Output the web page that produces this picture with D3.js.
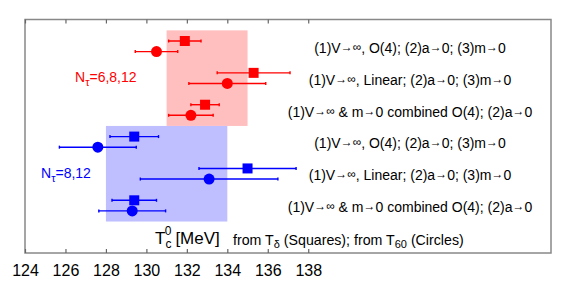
<!DOCTYPE html>
<html>
<head>
	<meta charset="utf-8">
	<script src="https://cdnjs.cloudflare.com/ajax/libs/d3/7.8.5/d3.min.js"></script>
	<style>
		body { margin: 0; background: #fff; }
		text { font-family: "Liberation Sans", Arial, sans-serif; }
	</style>
</head>
<body>
	<script type="text/javascript">

		// data: Tc0 estimates, square = from T_delta, circle = from T_60
		let rows = [0, 1, 2, 3, 4, 5];
		let squareVal = [131.9, 135.3, 132.9, 129.4, 135.0, 129.4];
		let squareErr = [0.8, 1.8, 0.7, 1.2, 2.4, 1.1];
		let circleVal = [130.5, 134.0, 132.2, 127.6, 133.1, 129.3];
		let circleErr = [1.05, 1.9, 1.1, 1.9, 3.4, 1.65];
		let rowColor = ['red', 'red', 'red', 'blue', 'blue', 'blue'];
		let rowLabels = [
			'(1)V→∞, O(4); (2)a→0; (3)m→0',
			'(1)V→∞, Linear; (2)a→0; (3)m→0',
			'(1)V→∞ & m→0 combined O(4); (2)a→0',
			'(1)V→∞, O(4); (2)a→0; (3)m→0',
			'(1)V→∞, Linear; (2)a→0; (3)m→0',
			'(1)V→∞ & m→0 combined O(4); (2)a→0'
		];
		let bands = [
			{lo: 131, hi: 135, from: -0.5, to: 2.5, fill: '#ffbfbf'},
			{lo: 128, hi: 134, from: 2.5, to: 5.5, fill: '#bfbfff'}
		];
		let tickVals = [124, 126, 128, 130, 132, 134, 136, 138];

		let svg = d3.select('body').append('svg')
			.attr('width', 581)
			.attr('height', 287);

		let x = d3.scaleLinear().domain([124, 150]).range([25, 551]);
		let y = d3.scaleLinear().domain([0, 5]).range([46.3, 205.6]);
		let off = 5.3;

		// shaded bands
		svg.selectAll('rect.band').data(bands).enter().append('rect')
			.attr('class', 'band')
			.attr('x', d => x(d.lo))
			.attr('width', d => x(d.hi) - x(d.lo))
			.attr('y', d => y(d.from))
			.attr('height', d => y(d.to) - y(d.from))
			.attr('fill', d => d.fill);

		// frame
		svg.append('rect')
			.attr('x', 25).attr('y', 19.5)
			.attr('width', 526).attr('height', 233.5)
			.attr('fill', 'none')
			.attr('stroke', '#888')
			.attr('stroke-width', 1.5);

		// axes, ticks inward
		let axBottom = svg.append('g').attr('transform', 'translate(0,253)')
			.call(d3.axisBottom(x).tickValues(tickVals).tickSize(-4).tickPadding(12).tickFormat(d3.format('d')));
		let axTop = svg.append('g').attr('transform', 'translate(0,19.5)')
			.call(d3.axisTop(x).tickValues(tickVals).tickSize(-4).tickFormat(''));
		[axBottom, axTop].forEach(g => {
			g.select('.domain').remove();
			g.selectAll('line').attr('stroke', '#666').attr('stroke-width', 1.2);
		});
		axBottom.selectAll('text')
			.attr('font-size', 16)
			.attr('fill', '#000')
			.attr('font-family', '"Liberation Sans", Arial, sans-serif');

		// error bars + markers
		function drawSeries(vals, errs, dy, kind) {
			let g = svg.append('g');
			let bars = g.selectAll('g').data(rows).enter().append('g')
				.attr('stroke', i => rowColor[i])
				.attr('stroke-width', 1.4);
			bars.append('line')
				.attr('x1', i => x(vals[i] - errs[i]))
				.attr('x2', i => x(vals[i] + errs[i]))
				.attr('y1', i => y(i) + dy)
				.attr('y2', i => y(i) + dy);
			bars.append('line')
				.attr('x1', i => x(vals[i] - errs[i]))
				.attr('x2', i => x(vals[i] - errs[i]))
				.attr('y1', i => y(i) + dy - 1.5)
				.attr('y2', i => y(i) + dy + 1.5);
			bars.append('line')
				.attr('x1', i => x(vals[i] + errs[i]))
				.attr('x2', i => x(vals[i] + errs[i]))
				.attr('y1', i => y(i) + dy - 1.5)
				.attr('y2', i => y(i) + dy + 1.5);
			if (kind === 'square') {
				g.selectAll('rect').data(rows).enter().append('rect')
					.attr('x', i => x(vals[i]) - 5)
					.attr('y', i => y(i) + dy - 5)
					.attr('width', 10).attr('height', 10)
					.attr('fill', i => rowColor[i]);
			} else {
				g.selectAll('circle').data(rows).enter().append('circle')
					.attr('cx', i => x(vals[i]))
					.attr('cy', i => y(i) + dy)
					.attr('r', 5.5)
					.attr('fill', i => rowColor[i]);
			}
		}
		drawSeries(squareVal, squareErr, -off, 'square');
		drawSeries(circleVal, circleErr, off, 'circle');

		// row labels, arrows and infinity a bit smaller like the symbol font
		let labs = svg.selectAll('text.lab').data(rows).enter().append('text')
			.attr('class', 'lab')
			.attr('x', 410)
			.attr('y', i => y(i) + 6.5)
			.attr('text-anchor', 'middle')
			.attr('font-size', 14)
			.attr('fill', '#000');
		labs.each(function(i) {
			let t = d3.select(this);
			let raised = false;
			rowLabels[i].split(/([→∞])/).forEach(part => {
				if (!part) return;
				let sp = t.append('tspan').text(part);
				let sym = part === '→' || part === '∞';
				if (sym) {
					sp.attr('font-size', 12);
					if (!raised) { sp.attr('dy', -2); raised = true; }
				} else if (raised) {
					sp.attr('dy', 2); raised = false;
				}
			});
		});

		// N_tau labels
		function ntau(xp, yp, rest, color) {
			let t = svg.append('text').attr('x', xp).attr('y', yp)
				.attr('font-size', 14).attr('fill', color);
			t.append('tspan').text('N');
			t.append('tspan').attr('font-size', 11).attr('dy', 4).text('τ');
			t.append('tspan').attr('dy', -4).text(rest);
		}
		ntau(75, 82, '=6,8,12', 'red');
		ntau(41, 178, '=8,12', 'blue');

		// axis title
		let tt = svg.append('text').attr('x', 155).attr('y', 243.5)
			.attr('font-size', 17).attr('fill', '#000');
		tt.append('tspan').text('T');
		tt.append('tspan').attr('font-size', 12).attr('dy', 4).text('c');
		tt.append('tspan').attr('font-size', 12).attr('dx', -6.7).attr('dy', -13).text('0');
		tt.append('tspan').attr('dy', 9).attr('dx', 4).text('[MeV]');

		let st = svg.append('text').attr('x', 233).attr('y', 244.5)
			.attr('font-size', 14.2).attr('fill', '#000');
		st.append('tspan').text('from T');
		st.append('tspan').attr('font-size', 11).attr('dy', 3).text('δ');
		st.append('tspan').attr('dy', -3).text(' (Squares); from T');
		st.append('tspan').attr('font-size', 11).attr('dy', 3).text('60');
		st.append('tspan').attr('dy', -3).text(' (Circles)');

	</script>
</body>
</html>
